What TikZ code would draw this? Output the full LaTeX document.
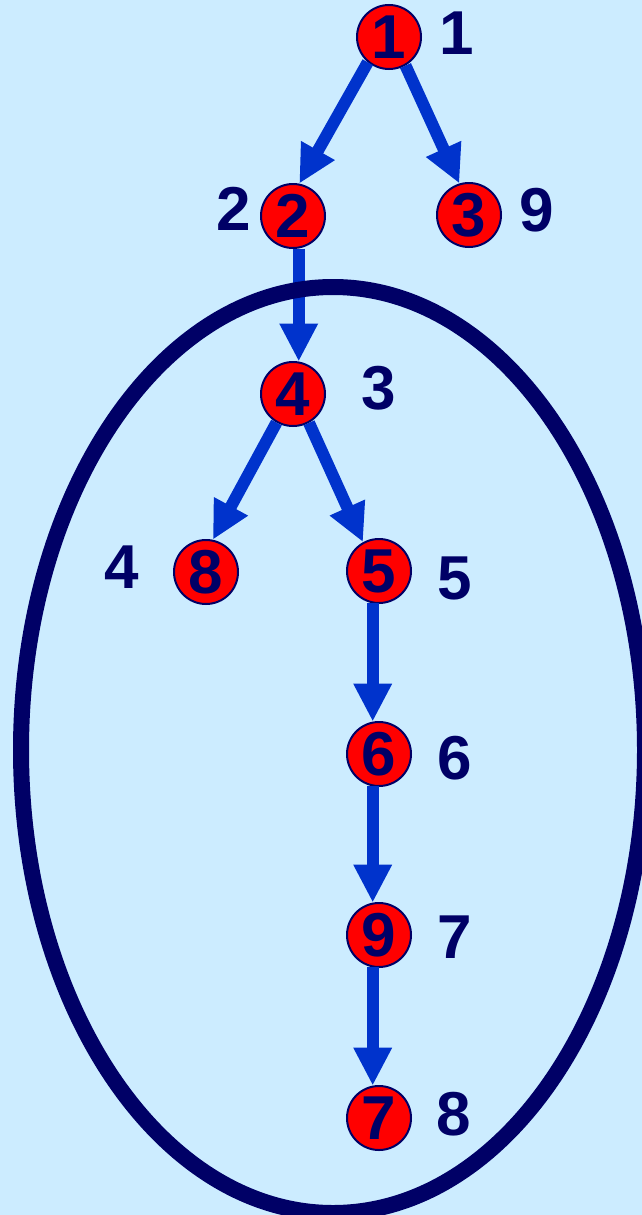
\documentclass[tikz,border=0pt]{standalone}
\usepackage{fontspec}
\setmainfont{Liberation Sans}
\usetikzlibrary{arrows.meta}
\definecolor{bg}{HTML}{CCECFF}
\definecolor{navy}{HTML}{000066}
\definecolor{arrowblue}{HTML}{0033CC}
\begin{document}
\begin{tikzpicture}[x=1pt,y=-1pt,
  vert/.style={circle, fill=red, draw=navy, line width=2pt, minimum size=64pt, inner sep=0pt,
    font=\fontsize{62}{62}\selectfont\bfseries, text=navy},
  lab/.style={font=\fontsize{62}{62}\selectfont\bfseries, text=navy, inner sep=0pt},
  edgearrow/.style={draw=arrowblue, line width=12pt, -{Triangle[length=38pt,width=36pt]}}]
\useasboundingbox (0,0) rectangle (642,1215);
\fill[bg] (0,0) rectangle (642,1215);
\clip (0,0) rectangle (642,1215);
% vertices
\node[vert] (n1) at (389,37) {1};
\node[vert] (n2) at (293,216) {2};
\node[vert] (n3) at (469,215) {3};
\node[vert] (n4) at (293,394) {4};
\node[vert] (n8) at (206,572) {8};
\node[vert] (n5) at (379,571) {5};
\node[vert] (n6) at (379,754) {6};
\node[vert] (n9) at (379,935) {9};
\node[vert] (n7) at (379,1118) {7};
% labels
\node[lab] (l1) at (457,33) {1};
\node[lab] (l2) at (234,209) {2};
\node[lab] (l3) at (537,210) {9};
\node[lab] (l4) at (379,388) {3};
\node[lab] (l5) at (122,567) {4};
\node[lab] (l6) at (455,578) {5};
\node[lab] (l7) at (455,758) {6};
\node[lab] (l8) at (455,937) {7};
\node[lab] (l9) at (454,1114) {8};
% edges
\draw[edgearrow] (n1.230) -- (n2.79);
\draw[edgearrow] (n1.300) -- (n3.107);
\draw[edgearrow] (n2.-80) -- (n4.80);
\draw[edgearrow] (n4.240) -- (n8.78);
\draw[edgearrow] (n4.299) -- (n5.119);
\draw[edgearrow] (n5.-101) -- (n6.101);
\draw[edgearrow] (n6.-101) -- (n9.101);
\draw[edgearrow] (n9.-101) -- (n7.101);
% ellipse
\draw[navy, line width=16pt] (333,750) ellipse [x radius=312, y radius=463];
\end{tikzpicture}
\end{document}
